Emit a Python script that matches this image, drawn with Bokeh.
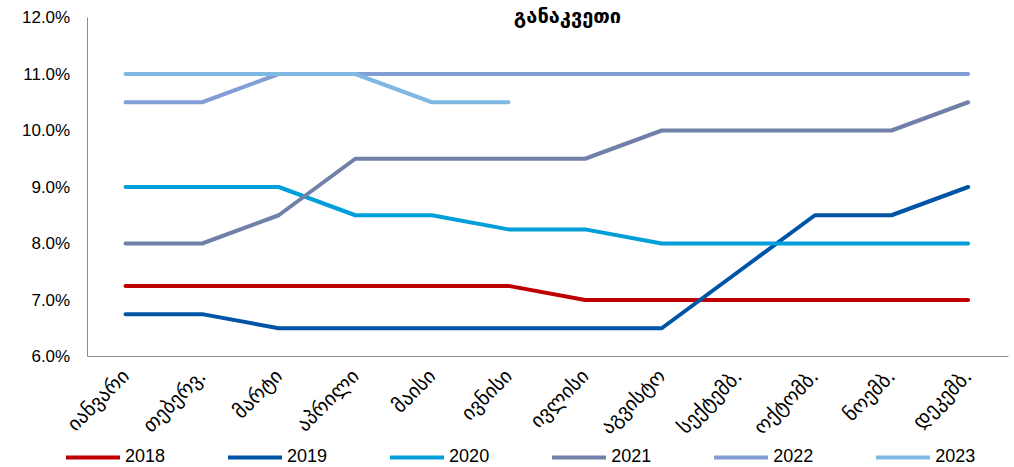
import math
from bokeh.plotting import figure
from bokeh.models import Range1d, Legend, LegendItem, Label, PrintfTickFormatter, FixedTicker
from bokeh.embed import file_html
from bokeh.resources import INLINE

months = ["იანვარი", "თებერვ.", "მარტი", "აპრილი", "მაისი", "ივნისი",
          "ივლისი", "აგვისტო", "სექტემბ.", "ოქტომბ.", "ნოემბ.", "დეკემბ."]
title_text = "განაკვეთი"

years = ["2018", "2019", "2020", "2021", "2022", "2023"]
r2018 = [7.25, 7.25, 7.25, 7.25, 7.25, 7.25, 7.0, 7.0, 7.0, 7.0, 7.0, 7.0]
r2019 = [6.75, 6.75, 6.5, 6.5, 6.5, 6.5, 6.5, 6.5, 7.5, 8.5, 8.5, 9.0]
r2020 = [9.0, 9.0, 9.0, 8.5, 8.5, 8.25, 8.25, 8.0, 8.0, 8.0, 8.0, 8.0]
r2021 = [8.0, 8.0, 8.5, 9.5, 9.5, 9.5, 9.5, 10.0, 10.0, 10.0, 10.0, 10.5]
r2022 = [10.5, 10.5, 11.0, 11.0, 11.0, 11.0, 11.0, 11.0, 11.0, 11.0, 11.0, 11.0]
r2023 = [11.0, 11.0, 11.0, 11.0, 10.5, 10.5]
y_ticks = [6, 7, 8, 9, 10, 11, 12]

series = [r2018, r2019, r2020, r2021, r2022, r2023]
colors = ["#C00000", "#0054A6", "#009FDA", "#7080A8", "#829ED6", "#7FB8E0"]

month_idx = list(range(len(months)))

# frame covers the whole canvas; axes are pinned inside it
PX_X = 76.6
PX_Y = 56.5
x0 = -125 / PX_X
y1 = 12 + 17 / PX_Y
p = figure(width=1014, height=467,
           x_range=Range1d(x0, x0 + 1014 / PX_X),
           y_range=Range1d(y1 - 467 / PX_Y, y1),
           output_backend="svg", toolbar_location=None,
           min_border=0, min_border_left=0, min_border_right=0,
           min_border_top=0, min_border_bottom=0)
p.outline_line_color = None
p.xgrid.visible = False
p.ygrid.visible = False

p.yaxis.fixed_location = -0.5
p.yaxis.bounds = (6, 12)
p.yaxis.ticker = FixedTicker(ticks=y_ticks)
p.yaxis.formatter = PrintfTickFormatter(format="%.1f%%")
p.yaxis.major_tick_out = 0
p.yaxis.major_tick_in = 0
p.yaxis.minor_tick_out = 0
p.yaxis.minor_tick_in = 0
p.yaxis.major_label_standoff = 17
p.yaxis.major_label_text_font = "Liberation Sans"
p.yaxis.major_label_text_font_size = "17px"
p.yaxis.major_label_text_color = "#000000"
p.yaxis.axis_line_color = "#8C8C8C"

p.xaxis.fixed_location = 6
p.xaxis.bounds = (-0.5, 11.53)
p.xaxis.ticker = FixedTicker(ticks=month_idx)
p.xaxis.major_label_overrides = {i: m for i, m in zip(month_idx, months)}
p.xaxis.major_tick_out = 0
p.xaxis.major_tick_in = 0
p.xaxis.minor_tick_out = 0
p.xaxis.minor_tick_in = 0
p.xaxis.major_label_orientation = math.pi / 4
p.xaxis.major_label_standoff = 16
p.xaxis.major_label_text_font = "DejaVu Sans"
p.xaxis.major_label_text_font_size = "20px"
p.xaxis.major_label_text_color = "#000000"
p.xaxis.axis_line_color = "#8C8C8C"

renderers = []
for yr, vals, c in zip(years, series, colors):
    r = p.line(x=month_idx[:len(vals)], y=vals, line_width=4, line_color=c,
               line_cap="round", line_join="round")
    renderers.append(r)

legend = Legend(items=[LegendItem(label=yr, renderers=[r]) for yr, r in zip(years, renderers)],
                orientation="horizontal", location=(66, 0), padding=0, margin=0,
                spacing=63, glyph_width=54, glyph_height=18, label_standoff=5,
                border_line_color=None, background_fill_alpha=0,
                label_text_font="Liberation Sans", label_text_font_size="18px",
                label_text_color="#000000")
p.add_layout(legend)

p.add_layout(Label(x=x0 + 567 / PX_X, y=12 + 2 / PX_Y, text=title_text, text_font="DejaVu Sans",
                   text_font_style="bold", text_font_size="20px", text_align="center",
                   text_baseline="middle", text_color="#000000"))

open("out.html", "w").write(file_html(p, INLINE))
